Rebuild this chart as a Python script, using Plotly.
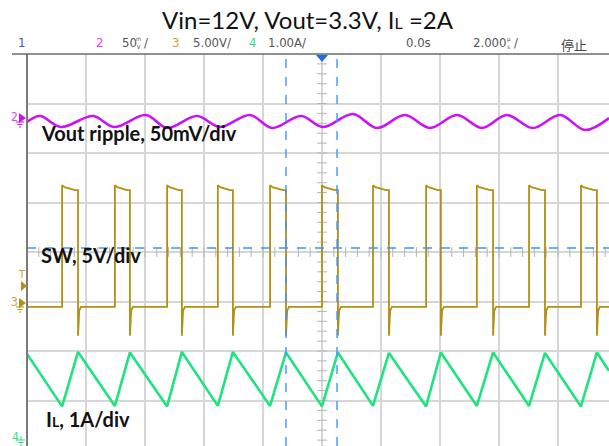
import plotly.graph_objects as go

# ---------------- data (time in microseconds) ----------------
# Channel 3: switch node (V)
sw_rise_us = [-8.81, -7.02, -5.25, -3.53, -1.76, 0.00, 1.73, 3.53, 5.25, 7.02, 8.78]
sw_fall_us = [-8.27, -6.51, -4.75, -3.02, -1.22, 0.54, 2.27, 4.03, 5.80, 7.56, 9.32]
sw_low_v = -0.4
sw_high_peak_v = 11.9
sw_high_mid_v = 11.7
sw_high_end_v = 11.4
sw_undershoot_v = -3.3
sw_recover_v = -0.8

# Channel 4: inductor current (A)
il_t_us = [-10.0, -8.81, -8.27, -7.02, -6.51, -5.25, -4.75, -3.53, -3.02, -1.76, -1.22,
           0.00, 0.54, 1.73, 2.27, 3.53, 4.03, 5.25, 5.80, 7.02, 7.56, 8.78, 9.32, 9.73]
il_a = [1.80, 0.74, 1.84, 0.75, 1.83, 0.74, 1.84, 0.75, 1.84, 0.75, 1.83,
        0.74, 1.83, 0.75, 1.82, 0.74, 1.83, 0.75, 1.83, 0.75, 1.82, 0.74, 1.83, 1.46]

# Channel 2: output ripple (mV, AC)
rip_t_us = [-10.0, -9.56, -8.85, -7.76, -7.05, -5.97, -5.25, -4.24, -3.46, -2.44, -1.69, -0.71,
            0.03, 1.05, 1.86, 2.81, 3.66, 4.58, 5.42, 6.27, 7.15, 8.07, 8.92, 9.73]
rip_mv = [-4.0, 2.0, -9.1, 2.0, -9.1, 3.0, -10.1, 2.0, -9.1, 3.0, -10.1, 2.0,
          -9.1, 4.0, -10.1, 3.0, -10.1, 3.0, -10.1, 3.0, -10.1, 3.0, -12.1, 0.0]

# cursors
cursor_x_us = [-1.22, 0.51]
cursor_y_div = 0.08

# scope settings
t_left, t_right = -10.0, 9.73
div_bottom, div_top = -3.919, 4.0
ch2_scale, ch2_pos = 50.0, 2.707     # mV/div, ground position (div)
ch3_scale, ch3_pos = 5.0, -1.030     # V/div
ch4_scale, ch4_pos = 1.0, -3.859     # A/div

C2 = "#cc11f5"
C3 = "#b38f14"
C4 = "#1ee37f"
BLUE = "#3a96ff"

# ---------------- build switch node trace ----------------
sw_t = [t_left]
sw_v = [sw_low_v]
for tr, tf in zip(sw_rise_us, sw_fall_us):
    sw_t += [tr, tr, tr + 0.08, tf - 0.10, tf, tf, tf + 0.04, tf + 0.10]
    sw_v += [sw_low_v, sw_high_peak_v, sw_high_mid_v, sw_high_end_v, sw_high_end_v,
             sw_undershoot_v, sw_recover_v, sw_low_v]
sw_t.append(t_right)
sw_v.append(sw_low_v)

W, H = 609, 446
L, T = 27, 54
PW, PH = W - L, H - T


def X(px):
    return (px - L) / PW


def Y(py):
    return (H - py) / PH


def path(points):
    s = "M " + " L ".join(f"{X(a):.5f},{Y(b):.5f}" for a, b in points) + " Z"
    return s


fig = go.Figure()

# graticule centre ticks
vt = [i * 0.2 for i in range(-19, 20)]
fig.add_trace(go.Scatter(x=[0] * len(vt), y=vt, mode="markers", xaxis="x", yaxis="y",
                         marker=dict(symbol="line-ew", size=7, line=dict(color="#b4b4b4", width=1)),
                         hoverinfo="skip", showlegend=False))
ht = [-10 + i * 0.4 for i in range(0, 50)]
fig.add_trace(go.Scatter(x=ht, y=[0] * len(ht), mode="markers", xaxis="x", yaxis="y",
                         marker=dict(symbol="line-ns", size=7, line=dict(color="#b4b4b4", width=1)),
                         hoverinfo="skip", showlegend=False))

fig.add_trace(go.Scatter(x=rip_t_us, y=rip_mv, mode="lines", yaxis="y2",
                         line=dict(color=C2, width=2.6, shape="spline", smoothing=1.0),
                         showlegend=False))
fig.add_trace(go.Scatter(x=sw_t, y=sw_v, mode="lines", yaxis="y3",
                         line=dict(color=C3, width=1.8), showlegend=False))
fig.add_trace(go.Scatter(x=il_t_us, y=il_a, mode="lines", yaxis="y4",
                         line=dict(color=C4, width=2.6), showlegend=False))

shapes = []
for cx in cursor_x_us:
    shapes.append(dict(type="line", xref="x", yref="paper", x0=cx, x1=cx, y0=0, y1=1,
                       line=dict(color=BLUE, width=1.4, dash="dash"), layer="above"))
shapes.append(dict(type="line", xref="paper", yref="y", x0=0, x1=1, y0=cursor_y_div, y1=cursor_y_div,
                   line=dict(color=BLUE, width=1.4, dash="dash"), layer="above"))
# borders
shapes.append(dict(type="line", xref="paper", yref="paper", x0=X(27), x1=X(27), y0=Y(54), y1=Y(446),
                   line=dict(color="#7a7a7a", width=2), layer="above"))
shapes.append(dict(type="line", xref="paper", yref="paper", x0=X(12), x1=X(609), y0=Y(54), y1=Y(54),
                   line=dict(color="#6a6a6a", width=1.5), layer="above"))
# trigger position marker
shapes.append(dict(type="path", xref="paper", yref="paper", path=path([(316, 55), (328, 55), (322, 62)]),
                   fillcolor="#1c6fd8", line=dict(width=0), layer="above"))
# channel markers (arrows)
shapes.append(dict(type="path", xref="paper", yref="paper", path=path([(19, 113), (26, 118), (19, 123)]),
                   fillcolor=C2, line=dict(width=0), layer="above"))
shapes.append(dict(type="path", xref="paper", yref="paper", path=path([(19, 298), (26, 303), (19, 308)]),
                   fillcolor=C3, line=dict(width=0), layer="above"))
shapes.append(dict(type="path", xref="paper", yref="paper", path=path([(21, 281), (27, 286), (21, 291)]),
                   fillcolor=C3, line=dict(width=0), layer="above"))
# ground symbols
for (gx, gy, col) in [(20, 122, C2), (20, 307, C3), (21, 440, C4)]:
    shapes.append(dict(type="line", xref="paper", yref="paper", x0=X(gx), x1=X(gx), y0=Y(gy - 4), y1=Y(gy),
                       line=dict(color=col, width=1), layer="above"))
    for k, hw in enumerate([4, 2.5, 1]):
        shapes.append(dict(type="line", xref="paper", yref="paper", x0=X(gx - hw), x1=X(gx + hw),
                           y0=Y(gy + 2.5 * k), y1=Y(gy + 2.5 * k),
                           line=dict(color=col, width=1), layer="above"))

hdr_font = "Liberation Sans Narrow, DejaVu Sans Condensed, sans-serif"
ann = []


def txt(text, px, py, color, size=13, family=hdr_font, xanchor="left"):
    ann.append(dict(text=text, x=X(px), y=Y(py), xref="paper", yref="paper", showarrow=False,
                    xanchor=xanchor, yanchor="middle", font=dict(family=family, size=size, color=color)))


GR = "#555555"
txt("1", 16, 43, "#3a55dd")
txt("2", 94, 43, "#e040fb")
txt("50", 120, 43, GR)
txt("m<br>V", 134, 42, GR, size=6)
txt("/", 142, 43, GR)
txt("3", 170, 43, "#c9a13a")
txt("5.00V/", 191, 43, GR)
txt("4", 247, 43, "#33e090")
txt("1.00A/", 266, 43, GR)
txt("0.0s", 404, 43, GR)
txt("2.000", 471, 43, GR)
txt("µ<br>s", 505, 42, GR, size=6)
txt("/", 512, 43, GR)
txt("停止", 559, 44, "#444444", size=13, family="Noto Sans CJK SC")

txt("Vin=12V, Vout=3.3V, I<span style='font-size:16px'>L</span> =2A", 308, 20, "#111111", size=24,
    family="Lato, Noto Sans, sans-serif", xanchor="center")

lab_font = "Lato, Noto Sans, sans-serif"
txt("<b>Vout ripple, 50mV/div</b>", 39, 133, "#111111", size=20, family=lab_font)
txt("<b>SW, 5V/div</b>", 39, 255, "#111111", size=20, family=lab_font)
txt("<b>I<span style='font-size:14px'>L</span>, 1A/div</b>", 44, 419, "#111111", size=20, family=lab_font)

txt("2", 14, 117, "#e040fb", size=12, xanchor="center")
txt("3", 14, 302, "#c9a13a", size=12, xanchor="center")
txt("T", 22, 274, "#c9a13a", size=11, xanchor="center")
txt("4", 15, 437, "#33e090", size=12, xanchor="center")

fig.update_layout(
    width=W, height=H,
    margin=dict(l=L, r=0, t=T, b=0),
    paper_bgcolor="white", plot_bgcolor="white",
    xaxis=dict(range=[t_left, t_right], dtick=2, tick0=-10, showgrid=True, gridcolor="#d6d6d6",
               gridwidth=1.5, zeroline=False, showticklabels=False, ticks="", showline=False,
               fixedrange=True),
    yaxis=dict(range=[div_bottom, div_top], dtick=1, tick0=0, showgrid=True, gridcolor="#d6d6d6",
               gridwidth=1.5, zeroline=False, showticklabels=False, ticks="", showline=False,
               fixedrange=True),
    yaxis2=dict(overlaying="y", visible=False,
                range=[(div_bottom - ch2_pos) * ch2_scale, (div_top - ch2_pos) * ch2_scale]),
    yaxis3=dict(overlaying="y", visible=False,
                range=[(div_bottom - ch3_pos) * ch3_scale, (div_top - ch3_pos) * ch3_scale]),
    yaxis4=dict(overlaying="y", visible=False,
                range=[(div_bottom - ch4_pos) * ch4_scale, (div_top - ch4_pos) * ch4_scale]),
    shapes=shapes,
    annotations=ann,
)

fig.write_html("out.html", config={"displayModeBar": False},
               post_script="document.body.style.margin='0px';document.body.style.overflow='hidden';")
